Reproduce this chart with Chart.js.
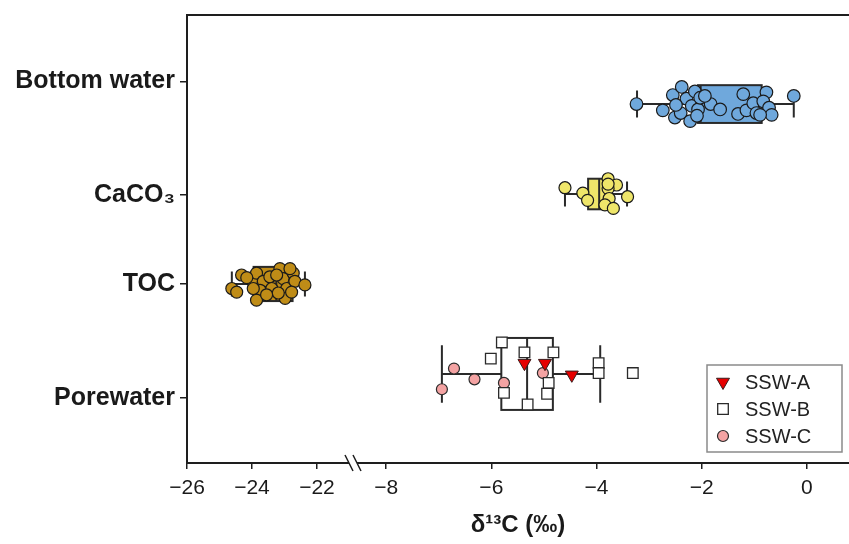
<!DOCTYPE html>
<html>
<head>
<meta charset="utf-8">
<script src="https://cdn.jsdelivr.net/npm/chart.js@4.4.1/dist/chart.umd.min.js"></script>
<style>
  html, body { margin: 0; padding: 0; background: #fff; }
</style>
</head>
<body>
<canvas id="d13c-box-chart" width="849" height="544"></canvas>
<script>
const FONT = "'Liberation Sans', Arial, Helvetica, sans-serif";
const INK = '#1e1e1e';

// categories and where their labels sit on the value axis
const CATEGORIES = ['Bottom water', 'CaCO₃', 'TOC', 'Porewater'];
const CATEGORY_TICKS = [3.25, 1.99, 1.0, -0.27];
const BOX_CENTERS = [3, 2, 1, 0];

// broken x axis: left part for TOC, right part for the rest
const LEFT_X_TICKS = [-26, -24, -22];
const RIGHT_X_TICKS = [-8, -6, -4, -2, 0];

// box stats: [min, q1, median, q3, max]
const BOTTOM_WATER_BOX = [-3.23, -2.07, -2.02, -0.86, -0.25];
const CACO3_BOX = [-4.60, -4.16, -3.95, -3.80, -3.42];
const TOC_BOX = [-24.62, -23.95, -23.25, -22.75, -22.37];
const POREWATER_BOX = [-6.94, -5.81, -5.32, -4.83, -3.93];

// individual samples
const bottomWaterX = [-3.24, -2.74, -2.55, -2.38, -2.51, -2.40, -2.29, -2.22, -2.13, -2.19, -2.07, -2.03, -1.83, -1.65,
  -1.21, -1.31, -1.15, -1.02, -0.96, -0.77, -0.83, -0.72, -0.67, -0.89, -0.25, -2.09, -1.94, -2.49];
const bottomWaterY = [3.0, 2.93, 3.10, 3.19, 2.85, 2.90, 3.06, 2.81, 3.14, 2.98, 2.94, 3.07, 3.0, 2.94,
  3.11, 2.89, 2.93, 3.01, 2.90, 3.13, 3.03, 2.96, 2.88, 2.88, 3.09, 2.87, 3.09, 2.99];

const caco3X = [-4.60, -4.26, -4.17, -3.78, -3.62, -3.78, -3.76, -3.84, -3.68, -3.41, -3.78];
const caco3Y = [2.07, 2.01, 1.93, 2.17, 2.10, 2.06, 1.95, 1.88, 1.84, 1.97, 2.11];

const tocX = [-24.62, -24.47, -24.32, -24.01, -23.86, -23.65, -23.75, -23.86, -23.45, -23.39, -23.14, -23.04,
  -22.93, -22.98, -22.73, -22.68, -22.78, -22.37, -23.19, -23.55, -22.83, -23.24, -23.96, -24.16];
const tocY = [0.95, 0.91, 1.10, 1.04, 1.12, 1.03, 0.93, 0.82, 1.08, 0.95, 1.17, 1.06,
  0.95, 0.84, 1.12, 1.03, 0.91, 0.99, 0.90, 0.88, 1.17, 1.10, 0.95, 1.07];

const sswAX = [-5.37, -4.98, -4.47];
const sswAY = [0.12, 0.12, -0.01];
const sswBX = [-5.80, -6.01, -5.76, -5.37, -5.31, -4.82, -4.91, -4.94, -3.96, -3.96, -3.31];
const sswBY = [0.35, 0.17, -0.21, 0.24, -0.34, 0.24, -0.10, -0.22, 0.12, 0.01, 0.01];
const sswCX = [-6.94, -6.71, -6.32, -5.76, -5.02];
const sswCY = [-0.17, 0.06, -0.06, -0.10, 0.01];

const toPoints = (xs, ys) => xs.map((x, i) => ({ x, y: ys[i] }));
const minusLabel = (v) => (v < 0 ? '\u2212' + Math.abs(v) : String(v));
const noPadding = (s) => { s.paddingTop = 0; s.paddingBottom = 0; s.paddingLeft = 0; s.paddingRight = 0; };

const boxes = [
  { stats: BOTTOM_WATER_BOX, center: BOX_CENTERS[0], axis: 'xR', fill: '#6fa8dc', half: 0.21, cap: 0.15 },
  { stats: CACO3_BOX, center: BOX_CENTERS[1], axis: 'xR', fill: '#efe66a', half: 0.17, cap: 0.14 },
  { stats: TOC_BOX, center: BOX_CENTERS[2], axis: 'xL', fill: '#bf8c17', half: 0.19, cap: 0.14 },
  { stats: POREWATER_BOX, center: BOX_CENTERS[3], axis: 'xR', fill: '#ffffff', half: 0.40, cap: 0.32 },
];

const boxPlotPlugin = {
  id: 'boxPlot',
  beforeDatasetsDraw(chart) {
    const { ctx } = chart;
    const yScale = chart.scales.y;
    boxes.forEach((b) => {
      const xScale = chart.scales[b.axis];
      const px = (v) => xScale.getPixelForValue(v);
      const [min, q1, med, q3, max] = b.stats;
      const yc = yScale.getPixelForValue(b.center);
      const top = yScale.getPixelForValue(b.center + b.half);
      const bottom = yScale.getPixelForValue(b.center - b.half);
      const capTop = yScale.getPixelForValue(b.center + b.cap);
      const capBottom = yScale.getPixelForValue(b.center - b.cap);
      ctx.save();
      ctx.strokeStyle = '#2a2a2a';
      ctx.lineWidth = 2;
      ctx.beginPath();
      ctx.moveTo(px(min), yc); ctx.lineTo(px(q1), yc);
      ctx.moveTo(px(q3), yc); ctx.lineTo(px(max), yc);
      ctx.moveTo(px(min), capTop); ctx.lineTo(px(min), capBottom);
      ctx.moveTo(px(max), capTop); ctx.lineTo(px(max), capBottom);
      ctx.stroke();
      ctx.fillStyle = b.fill;
      ctx.fillRect(px(q1), top, px(q3) - px(q1), bottom - top);
      ctx.strokeRect(px(q1), top, px(q3) - px(q1), bottom - top);
      ctx.beginPath();
      ctx.moveTo(px(med), top); ctx.lineTo(px(med), bottom);
      ctx.stroke();
      ctx.restore();
    });
  },
};

const framePlugin = {
  id: 'frame',
  afterDraw(chart) {
    const { ctx, chartArea } = chart;
    ctx.save();
    ctx.strokeStyle = INK;
    ctx.lineWidth = 2;
    ctx.beginPath();
    ctx.moveTo(chartArea.left - 1, chartArea.top);
    ctx.lineTo(chartArea.right, chartArea.top);
    ctx.stroke();
    // axis break
    const bx = chart.scales.xL.right;
    const by = chart.scales.xL.top;
    ctx.fillStyle = '#fff';
    ctx.fillRect(bx - 4, by - 3, 8, 6);
    ctx.lineWidth = 1.5;
    ctx.beginPath();
    [-4, 4].forEach((dx) => {
      ctx.moveTo(bx + dx - 4, by - 8);
      ctx.lineTo(bx + dx + 4, by + 8);
    });
    ctx.stroke();
    ctx.restore();
  },
};

const legendPlugin = {
  id: 'insideLegend',
  afterDraw(chart) {
    const { ctx } = chart;
    const entries = chart.data.datasets.filter((d) => d.inLegend);
    const left = 707, top = 365, width = 135, height = 87;
    ctx.save();
    ctx.strokeStyle = '#8a8a8a';
    ctx.lineWidth = 1.5;
    ctx.strokeRect(left, top, width, height);
    ctx.font = '20px ' + FONT;
    ctx.textBaseline = 'middle';
    entries.forEach((d, i) => {
      const cx = left + 16;
      const cy = top + 17 + i * 27;
      const r = d.pointRadius;
      ctx.fillStyle = d.backgroundColor;
      ctx.strokeStyle = d.borderColor;
      ctx.lineWidth = d.borderWidth;
      ctx.beginPath();
      if (d.pointStyle === 'triangle') {
        ctx.moveTo(cx, cy + r);
        ctx.lineTo(cx - r * 0.866, cy - r * 0.5);
        ctx.lineTo(cx + r * 0.866, cy - r * 0.5);
        ctx.closePath();
      } else if (d.pointStyle === 'rect') {
        const s = r * Math.SQRT1_2;
        ctx.rect(cx - s, cy - s, 2 * s, 2 * s);
      } else {
        ctx.arc(cx, cy, r, 0, Math.PI * 2);
      }
      ctx.fill();
      ctx.stroke();
      ctx.fillStyle = '#222';
      ctx.fillText(d.label, left + 38, cy + 1);
    });
    ctx.restore();
  },
};

const xAxisBase = {
  type: 'linear',
  position: 'bottom',
  stack: 'x',
  afterFit: (s) => { s.height = 48; noPadding(s); },
  grid: { drawOnChartArea: false, tickLength: 6, color: INK, lineWidth: 1.5 },
  border: { color: INK, width: 2 },
  ticks: { font: { family: FONT, size: 21 }, color: '#1a1a1a', padding: 7, callback: minusLabel, maxRotation: 0 },
};

new Chart(document.getElementById('d13c-box-chart'), {
  type: 'scatter',
  data: {
    datasets: [
      { label: 'SSW-A', inLegend: true, xAxisID: 'xR', data: toPoints(sswAX, sswAY), pointStyle: 'triangle', rotation: 180,
        pointRadius: 7.5, backgroundColor: '#e60000', borderColor: '#3a1a1a', borderWidth: 1 },
      { label: 'SSW-B', inLegend: true, xAxisID: 'xR', data: toPoints(sswBX, sswBY), pointStyle: 'rect',
        pointRadius: 7.5, backgroundColor: '#ffffff', borderColor: '#2a2a2a', borderWidth: 1.3 },
      { label: 'SSW-C', inLegend: true, xAxisID: 'xR', data: toPoints(sswCX, sswCY), pointStyle: 'circle',
        pointRadius: 5.5, backgroundColor: '#f4a3a3', borderColor: '#2a2a2a', borderWidth: 1.2 },
      { label: 'Bottom water', xAxisID: 'xR', data: toPoints(bottomWaterX, bottomWaterY),
        pointRadius: 6.3, backgroundColor: '#6fa8dc', borderColor: '#1a1a1a', borderWidth: 1.2 },
      { label: 'CaCO3', xAxisID: 'xR', data: toPoints(caco3X, caco3Y),
        pointRadius: 6, backgroundColor: '#efe66a', borderColor: '#1a1a1a', borderWidth: 1.2 },
      { label: 'TOC', xAxisID: 'xL', data: toPoints(tocX, tocY),
        pointRadius: 6, backgroundColor: '#bf8c17', borderColor: '#1a1a1a', borderWidth: 1.2 },
    ],
  },
  options: {
    responsive: false,
    animation: false,
    events: [],
    layout: { autoPadding: false, padding: { top: 15, left: 0, right: 0, bottom: 0 } },
    plugins: {
      legend: { display: false },
      tooltip: { enabled: false },
      title: {
        display: true,
        position: 'bottom',
        fullSize: false,
        text: 'δ¹³C (‰)',
        color: '#1a1a1a',
        font: { family: FONT, size: 24, weight: 'bold' },
        padding: { top: 0, bottom: 4.2 },
      },
    },
    scales: {
      xL: {
        ...xAxisBase,
        stackWeight: 166,
        min: -26,
        max: -20.89,
        afterBuildTicks: (s) => { s.ticks = LEFT_X_TICKS.map((value) => ({ value })); },
      },
      xR: {
        ...xAxisBase,
        stackWeight: 496,
        min: -8.63,
        max: 0.8,
        afterBuildTicks: (s) => { s.ticks = RIGHT_X_TICKS.map((value) => ({ value })); },
      },
      y: {
        type: 'linear',
        position: 'left',
        min: -0.99,
        max: 3.99,
        afterBuildTicks: (s) => { s.ticks = CATEGORY_TICKS.map((value) => ({ value })); },
        afterFit: (s) => { s.width = 187; noPadding(s); },
        grid: { drawOnChartArea: false, tickLength: 7, color: INK, lineWidth: 1.5 },
        border: { color: INK, width: 2 },
        ticks: {
          font: { family: FONT, size: 25, weight: 'bold' },
          color: '#1a1a1a',
          padding: 5,
          autoSkip: false,
          callback: (value, index) => CATEGORIES[index],
        },
      },
    },
  },
  plugins: [boxPlotPlugin, framePlugin, legendPlugin],
});
</script>
</body>
</html>
